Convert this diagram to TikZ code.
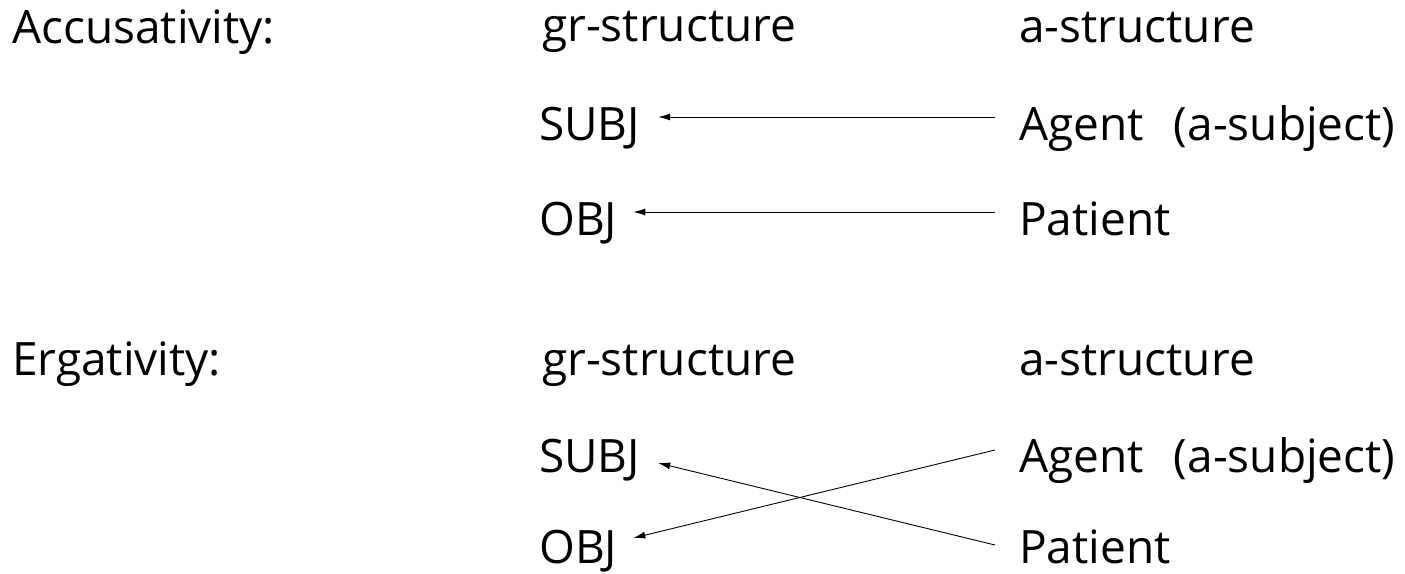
\documentclass[tikz,border=0pt]{standalone}
\usepackage{fontspec}
\setmainfont{Open Sans}
\usetikzlibrary{arrows.meta}
\begin{document}
\begin{tikzpicture}[x=1pt,y=-1pt,
  lbl/.style={anchor=base west,inner sep=0pt,font=\fontsize{46}{50}\selectfont},
  link/.style={line width=0.9pt,-{Latex[length=12pt,width=7pt]}}]
\useasboundingbox (0,0) rectangle (1405,573);
% headings
\node[lbl] (acc) at (12,43) {Accusativity:};
\node[lbl] (gr1) at (542,41) {gr-structure};
\node[lbl] (as1) at (1019,42) {a-structure};
\node[lbl] (subj1) at (539,140) {SUBJ};
\node[lbl] (agent1) at (1019,140) {Agent\hspace{30pt}(a-subject)};
\node[lbl] (obj1) at (539,235) {OBJ};
\node[lbl] (pat1) at (1019,235) {Patient};
\node[lbl] (erg) at (12,375) {Ergativity:};
\node[lbl] (gr2) at (542,375) {gr-structure};
\node[lbl] (as2) at (1019,375) {a-structure};
\node[lbl] (subj2) at (539,472) {SUBJ};
\node[lbl] (agent2) at (1019,472) {Agent\hspace{30pt}(a-subject)};
\node[lbl] (obj2) at (539,563) {OBJ};
\node[lbl] (pat2) at (1019,563) {Patient};
% arrows
\draw[link] ([shift={(-24,-23)}]agent1.base west) -- ([shift={(18,-23)}]subj1.base east);
\draw[link] ([shift={(-24,-23)}]pat1.base west) -- ([shift={(16,-23)}]obj1.base east);
\draw[link] ([shift={(-24,-18)}]pat2.base west) -- ([shift={(18,-9)}]subj2.base east);
\draw[link] ([shift={(-24,-22)}]agent2.base west) -- ([shift={(16,-25)}]obj2.base east);
\end{tikzpicture}
\end{document}
